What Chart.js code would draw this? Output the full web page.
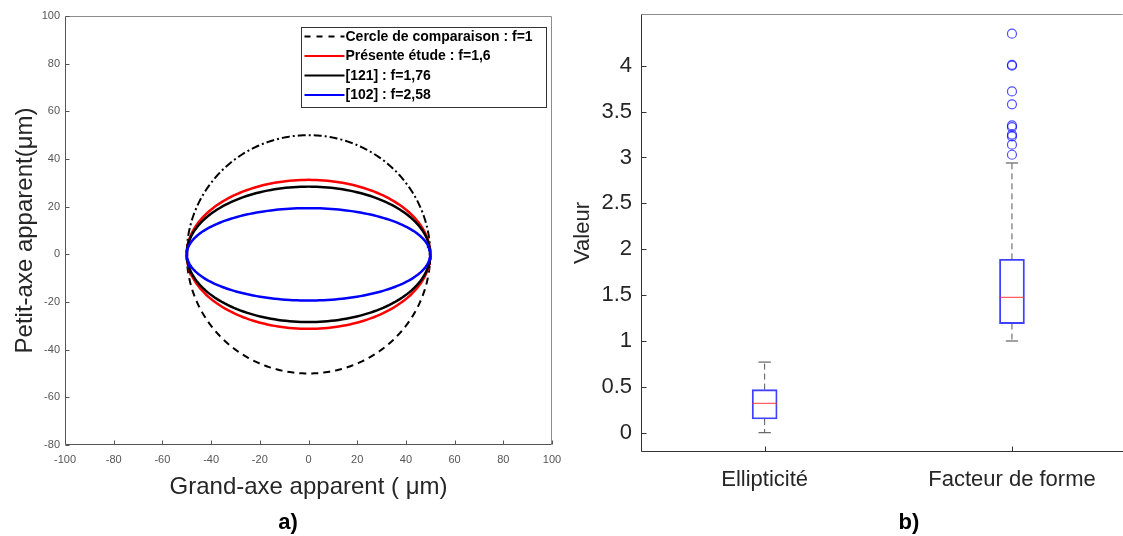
<!DOCTYPE html>
<html>
<head>
<meta charset="utf-8">
<script src="https://cdn.jsdelivr.net/npm/chart.js@4.4.1/dist/chart.umd.min.js"></script>
<style>
	html, body { margin: 0; padding: 0; background: #fff; width: 1123px; height: 536px; overflow: hidden; }
	#wrapA { position: absolute; left: 0; top: 0; width: 575px; height: 536px; }
	#wrapB { position: absolute; left: 560px; top: 0; width: 563px; height: 536px; }
	.lab { position: absolute; width: 60px; text-align: center; font: bold 22px "Liberation Sans", Arial, sans-serif; line-height: 22px; color: #000; }
</style>
</head>
<body>
<div id="wrapA"><canvas id="chartA" width="575" height="536"></canvas></div>
<div id="wrapB"><canvas id="chartB" width="563" height="536"></canvas></div>
<div class="lab" style="left:258px; top:511px;">a)</div>
<div class="lab" style="left:879px; top:511px;">b)</div>
<script>

// ---- a) ellipses : semi-major axis and form factors
var shapeLabels  = ["Cercle de comparaison : f=1", "Présente étude : f=1,6", "[121] : f=1,76", "[102] : f=2,58"];
var shapeFactors = [1, 1.6, 1.76, 2.58];
var majorRadius  = 50;
var xTicksA = [-100, -80, -60, -40, -20, 0, 20, 40, 60, 80, 100];
var yTicksA = [-80, -60, -40, -20, 0, 20, 40, 60, 80, 100];

// ---- b) box plots
var boxCategories = ["Ellipticité", "Facteur de forme"];
var boxLow    = [0, 1.0];
var boxQ1     = [0.15, 1.19];
var boxMedian = [0.32, 1.475];
var boxQ3     = [0.47, 1.89];
var boxHigh   = [0.77, 2.94];
var outliersForme = [4.35, 4.01, 4.0, 3.72, 3.58, 3.35, 3.33, 3.25, 3.23, 3.14, 3.03];
var yTicksB = [0, 0.5, 1, 1.5, 2, 2.5, 3, 3.5, 4];

Chart.defaults.font.family = '"Liberation Sans", Arial, Helvetica, sans-serif';
Chart.defaults.animation = false;

// points of an ellipse x = a cos t, y = (a / f) sin t
function ellipse (f, from, to)
{
	var pts = [];
	for (var i = 0; i <= 200; i++) {
		var t = from + (to - from) * i / 200;
		pts.push({x: majorRadius * Math.cos(t), y: majorRadius / f * Math.sin(t)});
	}
	return pts;
}

function fixTicks (list)
{
	return function (scale) { scale.ticks = list.map(function (v) { return {value: v}; }); };
}

// fixed scale size, no extra edge padding for labels
function fitTo (prop, size)
{
	return function (s) {
		s[prop] = size;
		s.paddingTop = s.paddingBottom = s.paddingLeft = s.paddingRight = 0;
	};
}

// axes box + inward ticks (matlab look)
var framePlugin = {
	id: 'frame',
	afterDraw: function (chart, args, o)
	{
		var a = chart.chartArea, ctx = chart.ctx;
		var L = Math.round(a.left) + 0.5, R = Math.round(a.right) - 0.5;
		var T = Math.round(a.top) + 0.5, B = Math.round(a.bottom) - 0.5;
		ctx.save();
		ctx.lineWidth = 1;
		ctx.strokeStyle = o.boxColor;
		ctx.beginPath();
		ctx.moveTo(L, T); ctx.lineTo(R, T);
		if (o.right) ctx.lineTo(R, B);
		ctx.stroke();
		ctx.strokeStyle = o.axisColor;
		ctx.beginPath();
		ctx.moveTo(L, T); ctx.lineTo(L, B); ctx.lineTo(o.right ? R : a.right, B);
		chart.scales.x.ticks.forEach(function (t) {
			var px = Math.round(chart.scales.x.getPixelForValue(t.value)) + 0.5;
			ctx.moveTo(px, B); ctx.lineTo(px, B - o.tick);
		});
		chart.scales.y.ticks.forEach(function (t) {
			var py = Math.round(chart.scales.y.getPixelForValue(t.value)) + 0.5;
			ctx.moveTo(L, py); ctx.lineTo(L + o.tick, py);
		});
		ctx.stroke();
		ctx.restore();
	}
};

// legend box in the upper right corner
var legendPlugin = {
	id: 'boxLegend',
	afterDraw: function (chart, args, o)
	{
		var a = chart.chartArea, ctx = chart.ctx;
		var x0 = Math.round(a.right) - 5.5 - o.width, y0 = Math.round(a.top) + 11.5;
		ctx.save();
		ctx.fillStyle = '#fff';
		ctx.fillRect(x0, y0, o.width, o.height);
		ctx.strokeStyle = '#333';
		ctx.lineWidth = 1;
		ctx.strokeRect(x0, y0, o.width, o.height);
		ctx.font = 'bold 14px "Liberation Sans", Arial, sans-serif';
		ctx.textBaseline = 'middle';
		o.items.forEach(function (it, i) {
			var y = y0 + 9 + i * 19.5;
			ctx.strokeStyle = it.color;
			ctx.lineWidth = 2;
			ctx.setLineDash(it.dash || []);
			ctx.beginPath();
			ctx.moveTo(x0 + 3, y); ctx.lineTo(x0 + 43, y);
			ctx.stroke();
			ctx.setLineDash([]);
			ctx.fillStyle = '#000';
			ctx.fillText(it.text, x0 + 44, y + 0.5);
		});
		ctx.restore();
	}
};

var lineStyles = [
	{color: '#000000', width: 2,   order: 4},
	{color: '#ff0000', width: 2.5, order: 3},
	{color: '#000000', width: 2.5, order: 2},
	{color: '#0000ff', width: 2.5, order: 1}
];

var datasetsA = [
	{label: shapeLabels[0], data: ellipse(shapeFactors[0], 0, Math.PI), borderDash: [8, 3, 2, 3]},
	{label: shapeLabels[0], data: ellipse(shapeFactors[0], Math.PI, 2 * Math.PI), borderDash: [7, 5]}
];
for (var i = 1; i < shapeFactors.length; i++)
	datasetsA.push({label: shapeLabels[i], data: ellipse(shapeFactors[i], 0, 2 * Math.PI)});

datasetsA.forEach(function (d, k) {
	var s = lineStyles[Math.max(0, k - 1)];
	d.showLine = true;
	d.pointRadius = 0;
	d.borderColor = s.color;
	d.borderWidth = s.width;
	d.order = s.order;
	d.tension = 0;
	d.fill = false;
});

new Chart(document.getElementById('chartA').getContext('2d'), {
	type: 'scatter',
	data: {datasets: datasetsA},
	plugins: [framePlugin, legendPlugin],
	options: {
		responsive: false,
		events: [],
		layout: {autoPadding: false, padding: {top: 16, right: 23, bottom: 31, left: 0}},
		plugins: {
			legend: {display: false},
			tooltip: {enabled: false},
			frame: {boxColor: '#8c8c8c', axisColor: '#555', tick: 4, right: true},
			boxLegend: {
				width: 245, height: 80,
				items: shapeLabels.map(function (t, i) {
					return {text: t, color: lineStyles[i].color, dash: i === 0 ? [6, 6] : null};
				})
			}
		},
		scales: {
			x: {
				type: 'linear', min: -100, max: 100,
				afterBuildTicks: fixTicks(xTicksA),
				afterFit: fitTo('height', 60),
				grid: {display: false, drawTicks: false}, border: {display: false},
				ticks: {color: '#555', font: {size: 11}, padding: 8, maxRotation: 0, autoSkip: false},
				title: {display: true, text: 'Grand-axe apparent ( μm)', color: '#262626', font: {size: 24}, padding: {top: 0, bottom: 3}}
			},
			y: {
				type: 'linear', min: -80, max: 100,
				afterBuildTicks: fixTicks(yTicksA),
				afterFit: fitTo('width', 65),
				grid: {display: false, drawTicks: false}, border: {display: false},
				ticks: {color: '#555', font: {size: 11}, padding: 5, autoSkip: false},
				title: {display: true, text: 'Petit-axe apparent(μm)', color: '#262626', font: {size: 24}, padding: {top: 11, bottom: 0}}
			}
		}
	}
});

// ---- b) datasets built from the box arrays
var boxHalf = 0.05, capHalf = 0.025;
var medianPts = [], whiskerPts = [], capPts = [];
boxCategories.forEach(function (c, i) {
	var p = i + 1;
	medianPts.push({x: p - boxHalf, y: boxMedian[i]}, {x: p + boxHalf, y: boxMedian[i]}, {x: p, y: null});
	whiskerPts.push({x: p, y: boxQ3[i]}, {x: p, y: boxHigh[i]}, {x: p, y: null},
	                {x: p, y: boxQ1[i]}, {x: p, y: boxLow[i]}, {x: p, y: null});
	capPts.push({x: p - capHalf, y: boxHigh[i]}, {x: p + capHalf, y: boxHigh[i]}, {x: p, y: null},
	            {x: p - capHalf, y: boxLow[i]}, {x: p + capHalf, y: boxLow[i]}, {x: p, y: null});
});

new Chart(document.getElementById('chartB').getContext('2d'), {
	type: 'scatter',
	data: {
		datasets: [
			{
				type: 'bar', label: 'box',
				data: boxCategories.map(function (c, i) { return {x: i + 1, y: [boxQ1[i], boxQ3[i]]}; }),
				backgroundColor: 'rgba(0,0,0,0)', borderColor: 'rgba(30,30,255,0.85)', borderWidth: 1.2,
				borderSkipped: false, barThickness: 25, grouped: false, order: 2
			},
			{label: 'median', data: medianPts, showLine: true, spanGaps: false, pointRadius: 0,
				borderColor: 'rgba(255,40,40,0.75)', borderWidth: 1.2, order: 1},
			{label: 'whisker', data: whiskerPts, showLine: true, spanGaps: false, pointRadius: 0,
				borderColor: '#555', borderWidth: 1, borderDash: [6, 4], order: 3},
			{label: 'cap', data: capPts, showLine: true, spanGaps: false, pointRadius: 0,
				borderColor: '#444', borderWidth: 1, order: 3},
			{label: 'outliers', data: outliersForme.map(function (v) { return {x: 2, y: v}; }),
				pointRadius: 4.5, pointStyle: 'circle', backgroundColor: 'rgba(0,0,0,0)',
				borderColor: 'rgba(0,0,255,0.7)', borderWidth: 1.2, order: 0}
		]
	},
	plugins: [framePlugin],
	options: {
		responsive: false,
		events: [],
		layout: {autoPadding: false, padding: {top: 14, right: 0, bottom: 30, left: 0}},
		plugins: {
			legend: {display: false},
			tooltip: {enabled: false},
			frame: {boxColor: '#8c8c8c', axisColor: '#333', tick: 5, right: false}
		},
		scales: {
			x: {
				type: 'linear', min: 0.5, max: 2.449, offset: false,
				afterBuildTicks: fixTicks([1, 2]),
				afterFit: fitTo('height', 54),
				grid: {display: false, drawTicks: false}, border: {display: false},
				ticks: {color: '#262626', font: {size: 22}, padding: 15, maxRotation: 0, autoSkip: false,
					callback: function (v) { return boxCategories[v - 1]; }}
			},
			y: {
				type: 'linear', min: -0.21, max: 4.564,
				afterBuildTicks: fixTicks(yTicksB),
				afterFit: fitTo('width', 81),
				grid: {display: false, drawTicks: false}, border: {display: false},
				ticks: {color: '#262626', font: {size: 22}, padding: 9, autoSkip: false,
					callback: function (v) { return String(v); }},
				title: {display: true, text: 'Valeur', color: '#262626', font: {size: 22}, padding: {top: 10, bottom: 0}}
			}
		}
	}
});
</script>
</body>
</html>
